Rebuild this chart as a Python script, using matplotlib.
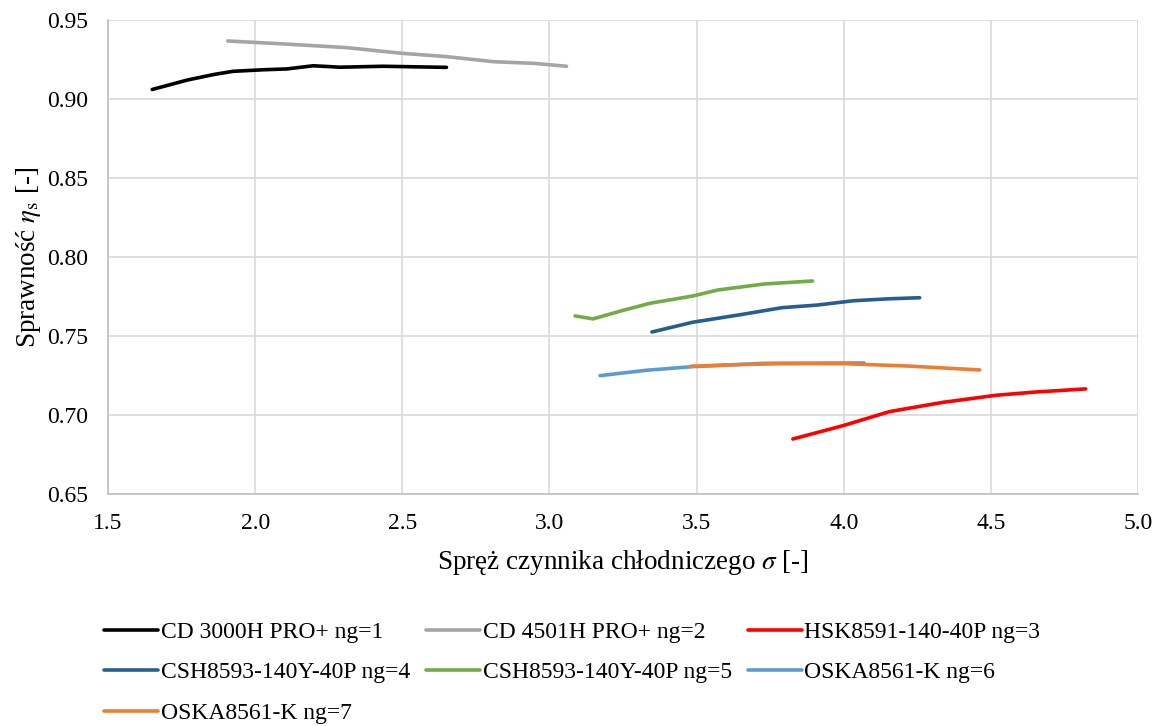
import matplotlib
matplotlib.use('Agg')
import matplotlib.pyplot as plt

plt.rcParams['font.family'] = ['Liberation Serif', 'DejaVu Serif']
plt.rcParams['mathtext.fontset'] = 'stix'

# data
labels = ['CD 3000H PRO+ ng=1', 'CD 4501H PRO+ ng=2', 'HSK8591-140-40P ng=3',
          'CSH8593-140Y-40P ng=4', 'CSH8593-140Y-40P ng=5', 'OSKA8561-K ng=6',
          'OSKA8561-K ng=7']
colors = ['#000000', '#a5a5a5', '#ff0000', '#255e91', '#70ad47', '#5b9bd5', '#ed7d31']

x1 = [1.65, 1.77, 1.86, 1.925, 2.03, 2.107, 2.197, 2.25, 2.288, 2.434, 2.65]
y1 = [0.906, 0.912, 0.9155, 0.9175, 0.9185, 0.919, 0.921, 0.9205, 0.9201, 0.9207, 0.920]
x2 = [1.907, 2.1, 2.311, 2.492, 2.65, 2.81, 2.95, 3.058]
y2 = [0.9367, 0.9348, 0.9325, 0.929, 0.9268, 0.9236, 0.9225, 0.9207]
x3 = [3.827, 3.997, 4.155, 4.337, 4.519, 4.65, 4.822]
y3 = [0.6848, 0.6932, 0.7021, 0.7080, 0.7125, 0.7145, 0.7165]
x4 = [3.348, 3.487, 3.65, 3.79, 3.912, 4.033, 4.15, 4.258]
y4 = [0.7525, 0.7587, 0.7635, 0.7679, 0.7696, 0.7723, 0.7735, 0.7742]
x5 = [3.087, 3.148, 3.25, 3.342, 3.487, 3.572, 3.73, 3.894]
y5 = [0.7627, 0.7608, 0.7662, 0.7707, 0.7753, 0.7791, 0.7829, 0.7848]
x6 = [3.172, 3.33, 3.487, 3.729, 4.069]
y6 = [0.7249, 0.7283, 0.7306, 0.7327, 0.7329]
x7 = [3.479, 3.65, 3.79, 3.997, 4.215, 4.462]
y7 = [0.7308, 0.7319, 0.7325, 0.7325, 0.731, 0.7285]

series = [(x1, y1), (x2, y2), (x3, y3), (x4, y4), (x5, y5), (x6, y6), (x7, y7)]

fig = plt.figure(figsize=(11.64, 7.26), dpi=100)
ax = fig.add_axes([0.0928, 0.3196, 0.8849, 0.6529])

handles = []
for (xs, ys), lab, col in zip(series, labels, colors):
    h, = ax.plot(xs, ys, color=col, lw=2.6, label=lab,
                 solid_capstyle='round', solid_joinstyle='round')
    handles.append(h)

ax.set_xlim(1.5, 5.0)
ax.set_ylim(0.65, 0.95)
ax.set_xticks([1.5, 2.0, 2.5, 3.0, 3.5, 4.0, 4.5, 5.0])
ax.set_yticks([0.65, 0.70, 0.75, 0.80, 0.85, 0.90, 0.95])
ax.xaxis.set_major_formatter(matplotlib.ticker.FormatStrFormatter('%.1f'))
ax.yaxis.set_major_formatter(matplotlib.ticker.FormatStrFormatter('%.2f'))
ax.grid(True, color='#d9d9d9', lw=1.2)
ax.set_axisbelow(True)
for s in ['top', 'right']:
    ax.spines[s].set_visible(False)
for s in ['left', 'bottom']:
    ax.spines[s].set_color('#bfbfbf')
    ax.spines[s].set_linewidth(1.2)
ax.tick_params(length=0, labelsize=17, pad=14)

ax.set_xlabel(r'Spręż czynnika chłodniczego $\sigma$ [-]', fontsize=19.5, labelpad=10)
ax.set_ylabel(r'Sprawność $\eta_\mathrm{s}$ [-]', fontsize=19.5, labelpad=3)

# legend filled column by column, so reorder to read row by row
order = [0, 3, 6, 1, 4, 2, 5]
fig.legend([handles[i] for i in order], [labels[i] for i in order],
           loc='upper left', bbox_to_anchor=(0.0893, 0.144), ncol=3, frameon=False,
           fontsize=17, handlelength=2.3, handletextpad=0.1, columnspacing=0.68,
           labelspacing=0.8, borderpad=0, borderaxespad=0)

fig.savefig('out.png', dpi=100)
